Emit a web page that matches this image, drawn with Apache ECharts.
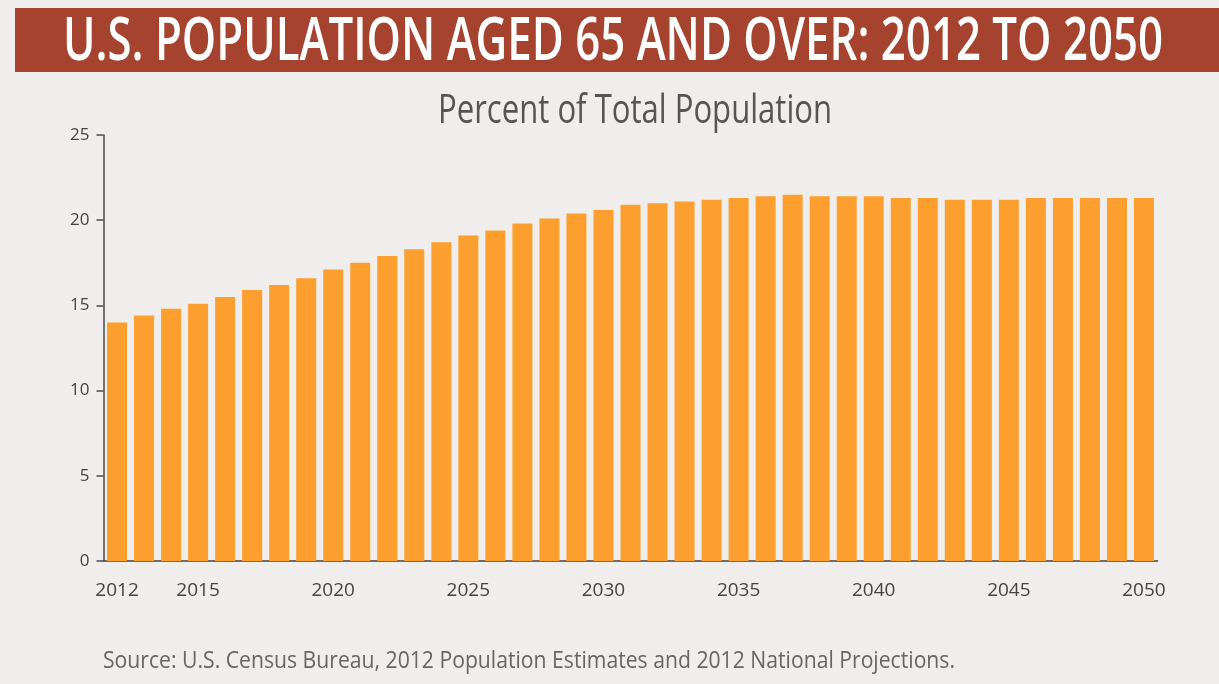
<!DOCTYPE html>
<html>
<head>
<meta charset="utf-8">
<script src="https://cdn.jsdelivr.net/npm/echarts@6/dist/echarts.min.js"></script>
<style>
html,body{margin:0;padding:0;background:#efeeec;}
#chart{width:1219px;height:684px;}
</style>
</head>
<body>
<div id="chart"></div>
<script>
// ---- data ----
const titleText = 'U.S. POPULATION AGED 65 AND OVER: 2012 TO 2050';
const subtitleText = 'Percent of Total Population';
const sourceText = 'Source: U.S. Census Bureau, 2012 Population Estimates and 2012 National Projections.';
const years = ['2012','2013','2014','2015','2016','2017','2018','2019','2020','2021',
  '2022','2023','2024','2025','2026','2027','2028','2029','2030','2031',
  '2032','2033','2034','2035','2036','2037','2038','2039','2040','2041',
  '2042','2043','2044','2045','2046','2047','2048','2049','2050'];
const percentValues = [14.0,14.4,14.8,15.1,15.5,15.9,16.2,16.6,17.1,17.5,
  17.9,18.3,18.7,19.1,19.4,19.8,20.1,20.4,20.6,20.9,
  21.0,21.1,21.2,21.3,21.4,21.5,21.4,21.4,21.4,21.3,
  21.3,21.2,21.2,21.2,21.3,21.3,21.3,21.3,21.3];
const xTickLabels = ['2012','2015','2020','2025','2030','2035','2040','2045','2050'];
const yTicks = [0,5,10,15,20,25];

// ---- helpers ----
const measureCtx = document.createElement('canvas').getContext('2d');
function fitScale(text, font, target){
  measureCtx.font = font;
  return target / measureCtx.measureText(text).width;
}
const titleFont = '600 60px "Open Sans"';
const subFont = '40px "Open Sans"';
const srcFont = '24px "Open Sans"';

const chart = echarts.init(document.getElementById('chart'), null, {renderer:'canvas'});
chart.setOption({
  backgroundColor: '#efeeec',
  animation: false,
  grid: {left: 103.5, right: 61.5, top: 135, bottom: 123, containLabel: false},
  xAxis: {
    type: 'category',
    data: years,
    boundaryGap: true,
    axisLine: {show: true, lineStyle: {color: '#4a4038', width: 1.5}},
    axisTick: {show: false},
    axisLabel: {
      interval: function(i, v){ return xTickLabels.indexOf(v) >= 0; },
      color: '#444444', fontFamily: 'Open Sans', fontSize: 19, margin: 20
    }
  },
  yAxis: {
    type: 'value',
    min: yTicks[0], max: yTicks[yTicks.length-1], interval: 5,
    splitLine: {show: false},
    axisLine: {show: true, lineStyle: {color: '#4a4a4a', width: 1.5}},
    axisTick: {show: true, inside: false, length: 7, lineStyle: {color: '#4a4a4a', width: 1.5}},
    axisLabel: {color: '#444444', fontFamily: 'Open Sans', fontSize: 17, margin: 14}
  },
  series: [{
    type: 'bar',
    data: percentValues,
    barWidth: 20,
    itemStyle: {color: '#fd9f2e'}
  }],
  graphic: [
    {type: 'rect', shape: {x: 15, y: 8, width: 1204, height: 64}, style: {fill: '#a6432f'}, z: 0},
    {type: 'text', x: 613, y: 43, scaleX: fitScale(titleText, titleFont, 1100), z: 2,
      style: {text: titleText, font: titleFont, fill: '#ffffff', textAlign: 'center', textVerticalAlign: 'middle'}},
    {type: 'text', x: 635, y: 112, scaleX: fitScale(subtitleText, subFont, 394), z: 2,
      style: {text: subtitleText, font: subFont, fill: '#555555', textAlign: 'center', textVerticalAlign: 'middle'}},
    {type: 'text', x: 103, y: 661, scaleX: fitScale(sourceText, srcFont, 852), z: 2,
      style: {text: sourceText, font: srcFont, fill: '#666666', textAlign: 'left', textVerticalAlign: 'middle'}}
  ]
});
</script>
</body>
</html>
